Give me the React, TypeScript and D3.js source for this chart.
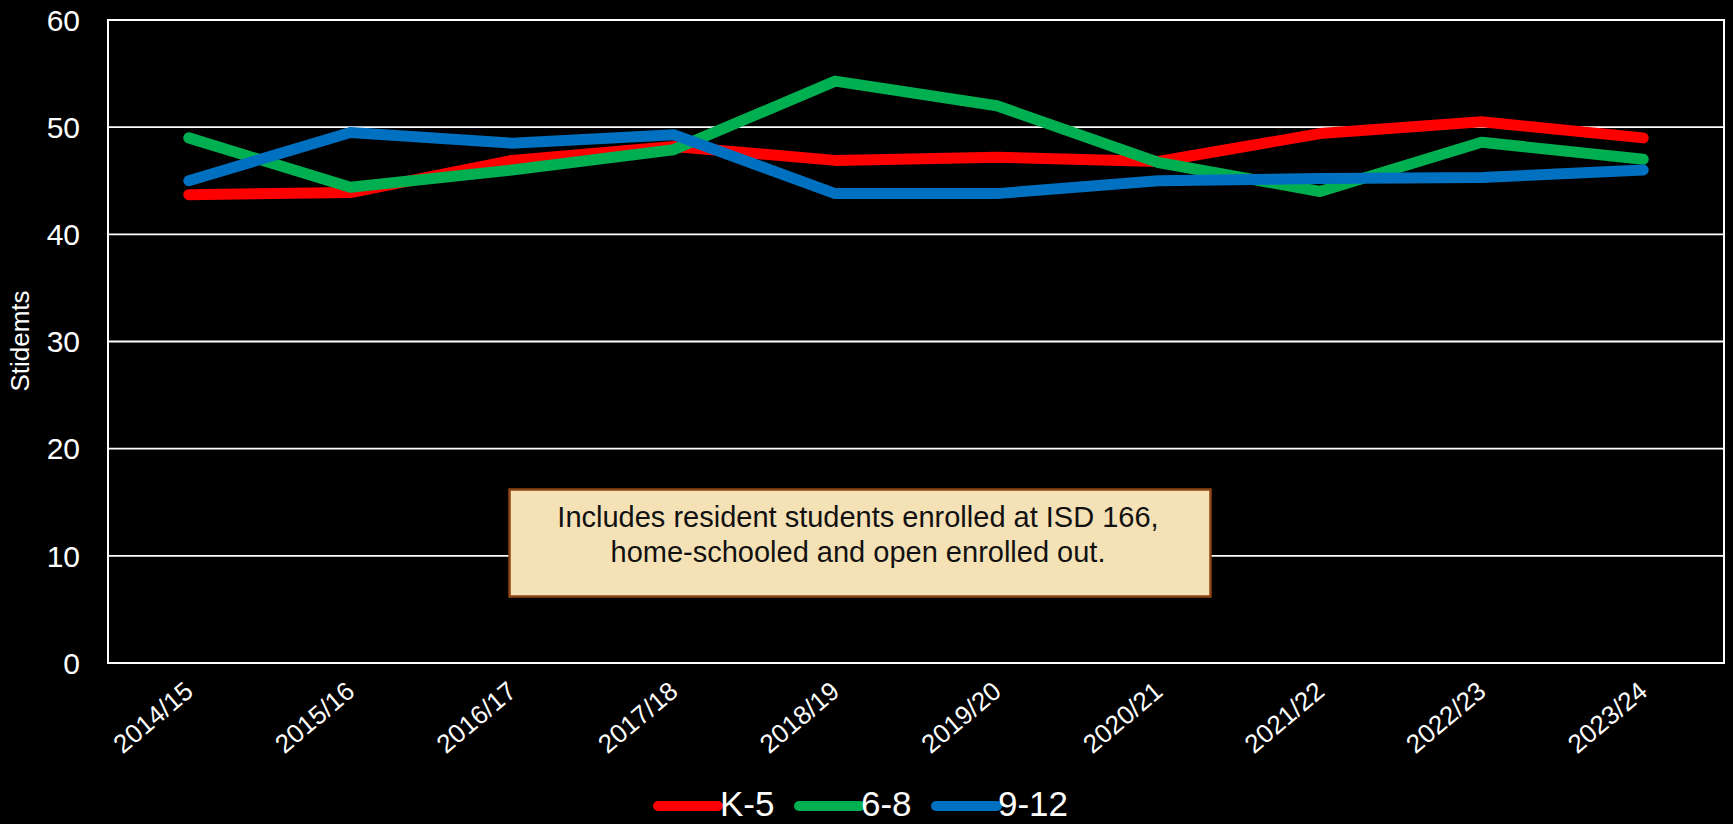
import React from "react";
import * as d3 from "d3";

const categories = ["2014/15","2015/16","2016/17","2017/18","2018/19","2019/20","2020/21","2021/22","2022/23","2023/24"];
const k5 = [43.7, 43.9, 46.9, 48.2, 46.9, 47.2, 46.8, 49.4, 50.5, 49.0];
const g68 = [49.0, 44.4, 46.0, 47.9, 54.3, 52.0, 46.7, 44.0, 48.6, 47.0];
const g912 = [45.0, 49.5, 48.5, 49.3, 43.8, 43.8, 45.0, 45.2, 45.3, 46.0];
const seriesNames = ["K-5", "6-8", "9-12"];
const seriesColors = ["#FF0000", "#00B050", "#0070C0"];
const yTicks = [0, 10, 20, 30, 40, 50, 60];
const noteLines = ["Includes resident students enrolled at ISD 166,", "home-schooled and open enrolled out."];

const W = 1733, H = 824;
const M = { left: 108, right: 1724, top: 20, bottom: 663 };
const FONT = "'Liberation Sans', Arial, sans-serif";

export default function App() {
  const x = d3.scaleBand<string>().domain(categories).range([M.left, M.right]);
  const y = d3.scaleLinear().domain([0, 60]).range([M.bottom, M.top]);
  const cx = (c: string) => (x(c) as number) + x.bandwidth() / 2;
  const line = d3.line<number>().x((_, i) => cx(categories[i])).y((d) => y(d));
  const series = [k5, g68, g912];

  const legendItems = [
    { x1: 658, x2: 718, tx: 720 },
    { x1: 799, x2: 860, tx: 861 },
    { x1: 936, x2: 997, tx: 998 },
  ];

  return (
    <svg width={W} height={H} style={{ position: "absolute", left: 0, top: 0, background: "#000" }} fontFamily={FONT}>
      <rect x={0} y={0} width={W} height={H} fill="#000" />
      {yTicks.map((t) => (
        <g key={t}>
          {t > 0 && t < 60 && (
            <line x1={M.left} x2={M.right} y1={y(t)} y2={y(t)} stroke="#fff" strokeWidth={1.8} />
          )}
          <text x={80} y={y(t)} dy="0.36em" textAnchor="end" fill="#fff" fontSize={30}>{t}</text>
        </g>
      ))}
      <rect x={M.left} y={M.top} width={M.right - M.left} height={M.bottom - M.top} fill="none" stroke="#fff" strokeWidth={2} />
      <text transform={`translate(29,${341}) rotate(-90)`} textAnchor="middle" fill="#fff" fontSize={26}>Stidemts</text>
      {categories.map((c) => (
        <text key={c} transform={`translate(${cx(c) + 6},${M.bottom + 31}) rotate(-40)`} textAnchor="end" fill="#fff" fontSize={26}>{c}</text>
      ))}
      {series.map((s, i) => (
        <path key={i} d={line(s) as string} fill="none" stroke={seriesColors[i]} strokeWidth={11} strokeLinecap="round" strokeLinejoin="round" />
      ))}
      <rect x={509.5} y={489.5} width={701} height={107} fill="#F5E1B6" stroke="#8B4513" strokeWidth={2.5} />
      {noteLines.map((l, i) => (
        <text key={i} x={858} y={527 + i * 35} textAnchor="middle" fill="#111" fontSize={29}>{l}</text>
      ))}
      {seriesNames.map((n, i) => (
        <g key={n}>
          <line x1={legendItems[i].x1} x2={legendItems[i].x2} y1={806} y2={806} stroke={seriesColors[i]} strokeWidth={10} strokeLinecap="round" />
          <text x={legendItems[i].tx} y={816} fill="#fff" fontSize={35}>{n}</text>
        </g>
      ))}
    </svg>
  );
}
